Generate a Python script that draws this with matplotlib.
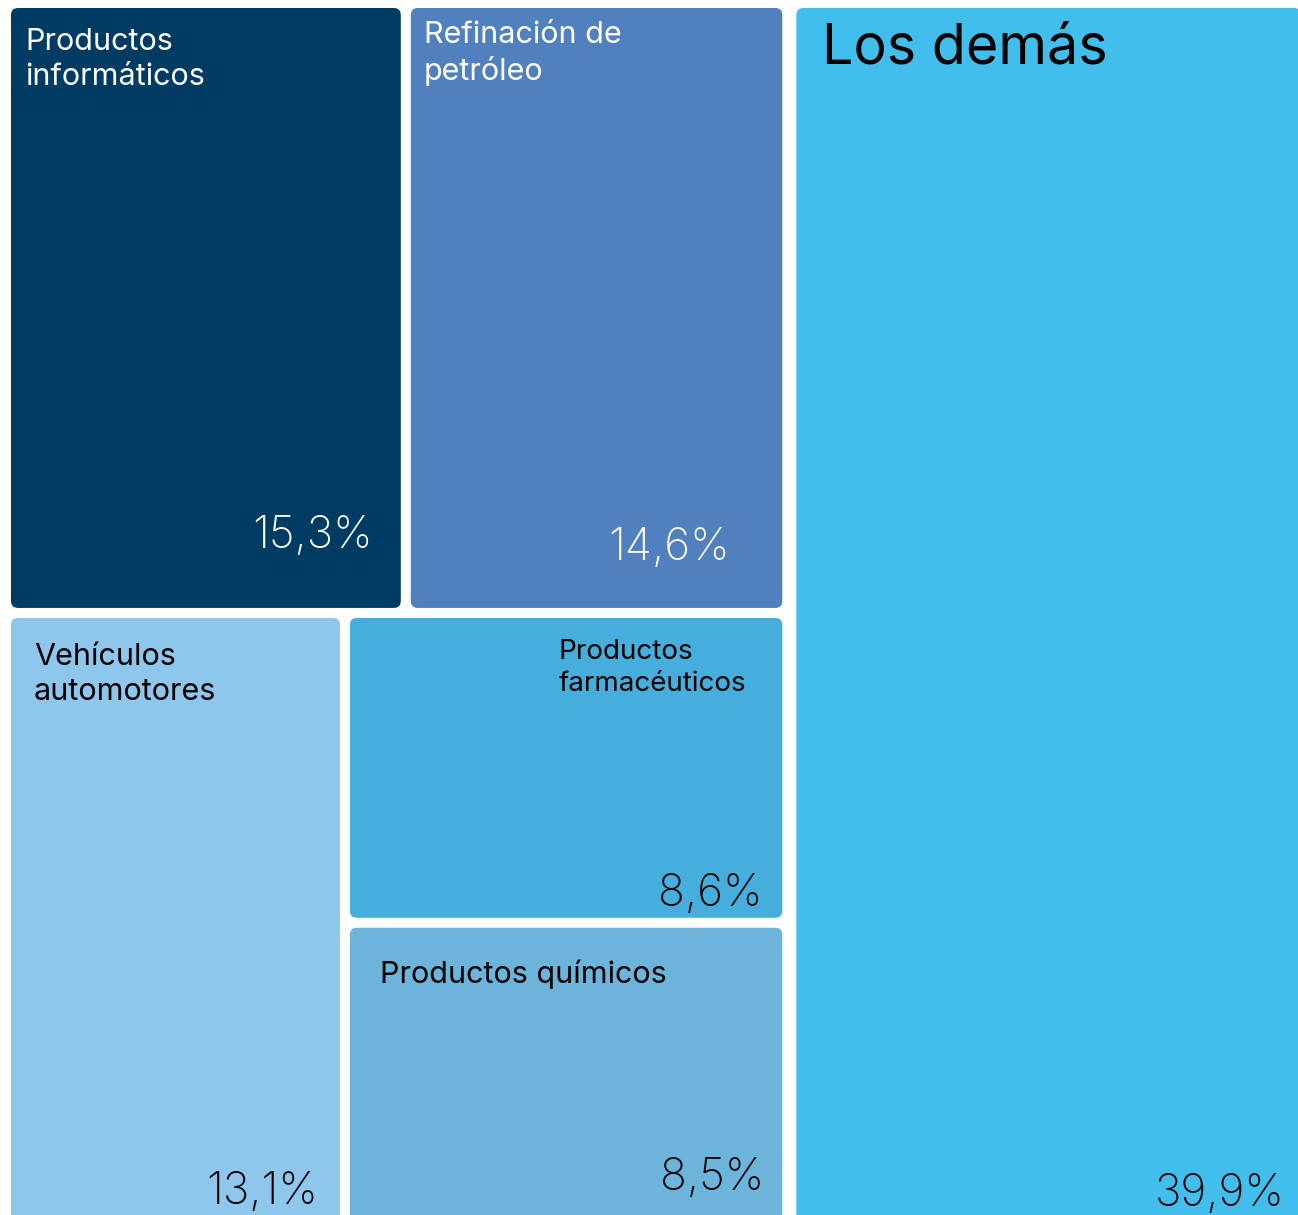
import matplotlib
matplotlib.use('Agg')
import matplotlib.pyplot as plt
from matplotlib.patches import FancyBboxPatch

# shares of the total, in percent
labels = ['Productos\ninformáticos', 'Refinación de\npetróleo', 'Vehículos\nautomotores',
          'Productos\nfarmacéuticos', 'Productos químicos', 'Los demás']
values = [15.3, 14.6, 13.1, 8.6, 8.5, 39.9]
colors = ['#003b63', '#5080be', '#8fc6ec', '#45aedd', '#6db4db', '#42beed']
text_colors = ['white', 'white', 'black', 'black', 'black', 'black']

W, H = 1298, 1215
fig = plt.figure(figsize=(W / 100, H / 100), dpi=100)
ax = fig.add_axes([0, 0, 1, 1])
ax.set_xlim(0, W)
ax.set_ylim(H, 0)
ax.axis('off')

# slice-and-dice layout: right column = "Los demás", left = two rows
x0, y0 = 11, 8
RW, RH = 1300, 1226
gap = 10
total = sum(values)
left_w = RW * sum(values[:5]) / total
top_h = RH * (values[0] + values[1]) / sum(values[:5])
w0 = left_w * values[0] / (values[0] + values[1])
w2 = left_w * values[2] / (values[2] + values[3] + values[4])
h3 = (RH - top_h) * values[3] / (values[3] + values[4])

boxes = [
    (x0, y0, w0, top_h),
    (x0 + w0, y0, left_w - w0, top_h),
    (x0, y0 + top_h, w2, RH - top_h),
    (x0 + w2, y0 + top_h, left_w - w2, h3),
    (x0 + w2, y0 + top_h + h3, left_w - w2, RH - top_h - h3),
    (x0 + left_w + 4, y0, RW - left_w - 4, RH),
]

# label placement: (dx from left, dy from top, size) ; number: (dx from right, dy from bottom)
lab_pos = [(14, 20, 22), (13, 13, 22), (23, 25, 22), (209, 21, 20), (30, 32, 22), (26, 14, 40)]
num_pos = [(28, 60), (52, 48), (22, 11), (20, 12), (18, 25), (16, 9)]

for i in range(len(values)):
    bx, by, bw, bh = boxes[i]
    bw -= gap
    bh -= gap
    ax.add_patch(FancyBboxPatch((bx, by), bw, bh,
                                boxstyle='round,pad=0,rounding_size=7',
                                facecolor=colors[i], edgecolor='none'))
    dx, dy, fs = lab_pos[i]
    ax.text(bx + dx, by + dy, labels[i], ha='left', va='top', fontsize=fs,
            color=text_colors[i], family='Inter', linespacing=1.3)
    nx, ny = num_pos[i]
    bottom = min(by + bh, H)
    ax.text(bx + bw - nx, bottom - ny, f'{values[i]:.1f}%'.replace('.', ','),
            ha='right', va='baseline', fontsize=32, fontweight='light',
            color=text_colors[i], family='Inter')

fig.savefig('out.png', dpi=100)
